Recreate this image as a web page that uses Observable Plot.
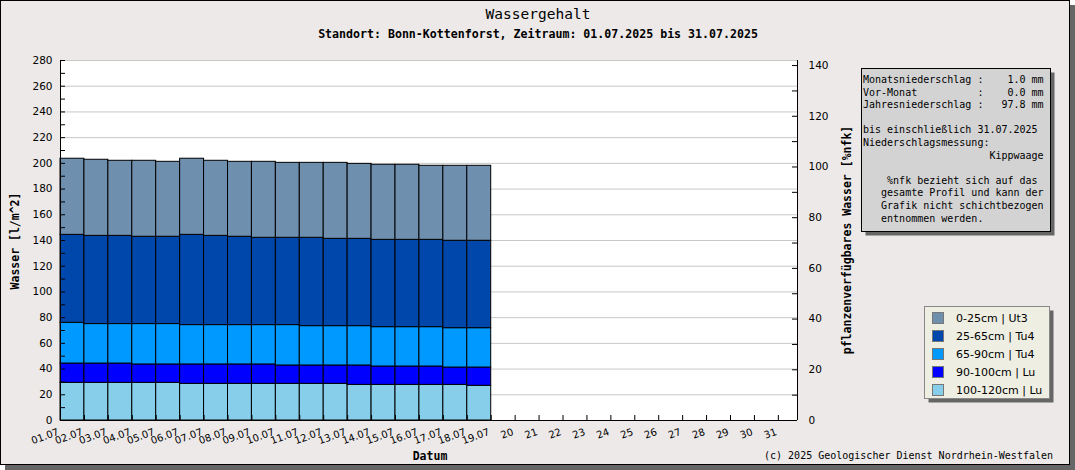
<!DOCTYPE html>
<html><head><meta charset="utf-8">
<script src="https://cdn.jsdelivr.net/npm/d3@7"></script>
<script src="https://cdn.jsdelivr.net/npm/@observablehq/plot@0.6"></script>
<style>
body{margin:0;background:#fff;}
#wrap{position:relative;width:1075px;height:470px;overflow:hidden;}
#shadow{position:absolute;left:5px;top:5px;width:1070px;height:465px;background:#666;}
#frame{position:absolute;left:0;top:0;width:1068px;height:463px;background:#ECE9E8;border:1px solid #000;}
#chart{position:absolute;left:0;top:0;}
#over{position:absolute;left:0;top:0;}
.mono{font-family:"DejaVu Sans Mono",monospace;}
</style></head>
<body>
<div id="wrap"><div id="shadow"></div><div id="frame"></div><div id="chart"></div>
<svg id="over" width="1075" height="470" xmlns="http://www.w3.org/2000/svg"></svg></div>
<script>
// ---- data ----
const days = [1,2,3,4,5,6,7,8,9,10,11,12,13,14,15,16,17,18];
const layers = ["0-25cm | Ut3","25-65cm | Tu4","65-90cm | Tu4","90-100cm | Lu","100-120cm | Lu"];
const colors = ["#6F8FAF","#0047AB","#0099FF","#0000FF","#87CEEB"];
const v0_25   = [59.2,59.2,58.4,59.1,58.3,59.2,58.4,58.3,59.1,58.3,58.3,59.1,58.3,58.4,58.4,57.6,58.3,58.3];
const v25_65  = [68.4,68.6,68.6,67.9,67.9,70.2,69.4,68.7,67.9,67.9,68.7,67.9,67.9,67.9,67.9,67.9,68.0,68.0];
const v65_90  = [31.7,30.7,30.7,31.4,31.4,30.6,30.6,30.6,30.6,31.4,30.6,30.6,30.6,30.6,30.6,30.6,30.6,30.6];
const v90_100 = [15.0,15.0,15.0,14.3,14.3,15.1,15.1,15.1,15.1,14.3,14.3,14.3,15.1,14.3,14.3,14.3,13.5,14.2];
const v100_120= [29.3,29.3,29.3,29.3,29.3,28.5,28.5,28.5,28.5,28.5,28.5,28.5,27.7,27.7,27.7,27.7,27.7,27.0];
const tickDays = [1,2,3,4,5,6,7,8,9,10,11,12,13,14,15,16,17,18,19,20,21,22,23,24,25,26,27,28,29,30,31];
const xLabels = ["01.07","02.07","03.07","04.07","05.07","06.07","07.07","08.07","09.07","10.07","11.07","12.07","13.07","14.07","15.07","16.07","17.07","18.07","19.07","20","21","22","23","24","25","26","27","28","29","30","31"];
const leftLabels = [0,20,40,60,80,100,120,140,160,180,200,220,240,260,280];
const leftMinor = [0,10,20,30,40,50,60,70,80,90,100,110,120,130,140,150,160,170,180,190,200,210,220,230,240,250,260,270,280];
const gridVals = [20,40,60,80,100,120,140,160,180,200,220,240,260,280];
const rightLabels = [0,20,40,60,80,100,120,140];
const rightMinor = [0,10,20,30,40,50,60,70,80,90,100,110,120,130,140];
const yMax = 280, rightMax = 142, xEnd = 31.8;
const infoLines = [
"Monatsniederschlag :    1.0 mm",
"Vor-Monat          :    0.0 mm",
"Jahresniederschlag :   97.8 mm",
"",
"bis einschließlich 31.07.2025",
"Niederschlagsmessung:",
"                     Kippwaage",
"",
"    %nfk bezieht sich auf das",
"   gesamte Profil und kann der",
"   Grafik nicht schichtbezogen",
"   entnommen werden."];

// ---- build table (bottom layer first for stacking) ----
const series = {"0-25cm | Ut3":v0_25,"25-65cm | Tu4":v25_65,"65-90cm | Tu4":v65_90,"90-100cm | Lu":v90_100,"100-120cm | Lu":v100_120};
const data = [];
for (const l of layers.slice().reverse()) days.forEach((d,i)=>data.push({day:d, layer:l, value:series[l][i]}));
const k = yMax / rightMax;

const W = 1075, H = 470, mL = 60, mT = 60, mR = 278, mB = 50;
const innerW = W - mL - mR, innerH = H - mT - mB;

const chart = Plot.plot({
  width: W, height: H,
  marginLeft: mL, marginTop: mT, marginRight: mR, marginBottom: mB,
  style: {background: "transparent", fontFamily: "DejaVu Sans", fontSize: "10.5px", color: "#000", overflow: "visible"},
  x: {domain: [1, xEnd], axis: null},
  y: {domain: [0, yMax], axis: null},
  color: {domain: layers, range: colors},
  marks: [
    Plot.frame({fill: "white", stroke: "none"}),
    Plot.ruleY(gridVals, {y: d => d, stroke: "#C8C8C8"}),
    Plot.rectY(data, {x1: "day", x2: d => d.day + 1, y: "value", fill: "layer", z: "layer", stroke: "#000", strokeWidth: 1}),
    Plot.tickY(leftMinor, {y: d => d, insetRight: innerW - 5, stroke: "#000"}),
    Plot.tickY(rightMinor.map(v => v * k), {y: d => d, insetLeft: innerW - 5, stroke: "#000"}),
    Plot.tickX(tickDays, {x: d => d, insetTop: innerH - 5, stroke: "#000"}),
    Plot.ruleX([1], {stroke: "#000"}),
    Plot.ruleX([xEnd], {stroke: "#000"}),
    Plot.ruleY([0], {stroke: "#000"}),
    Plot.axisY(leftLabels, {anchor: "left", tickSize: 0, tickPadding: 8, label: null, fontSize: 10.5}),
    Plot.axisY(rightLabels.map(v => v * k), {anchor: "right", tickSize: 0, tickPadding: 11, label: null, fontSize: 10.5, tickFormat: d => Math.round(d / k)}),
    Plot.axisX(tickDays, {anchor: "bottom", tickSize: 0, tickPadding: 11, tickRotate: -20, textAnchor: "end", dx: -2, label: null, fontSize: 10, tickFormat: d => xLabels[d - 1]})
  ]
});
document.getElementById("chart").appendChild(chart);

// ---- overlay texts, info box, legend ----
let s = "";
s += `<text x="538" y="19" text-anchor="middle" class="mono" font-size="14.5">Wassergehalt</text>`;
s += `<text x="538" y="38" text-anchor="middle" class="mono" font-size="11.6" font-weight="bold">Standort: Bonn-Kottenforst, Zeitraum: 01.07.2025 bis 31.07.2025</text>`;
s += `<text transform="translate(19,241) rotate(-90)" text-anchor="middle" class="mono" font-size="11.5" font-weight="bold">Wasser [l/m^2]</text>`;
s += `<text transform="translate(851,240) rotate(-90)" text-anchor="middle" class="mono" font-size="11.5" font-weight="bold">pflanzenverfügbares Wasser [%nfk]</text>`;
s += `<text x="430" y="460" text-anchor="middle" class="mono" font-size="11.5" font-weight="bold">Datum</text>`;
s += `<text x="1053" y="459" text-anchor="end" class="mono" font-size="10">(c) 2025 Geologischer Dienst Nordrhein-Westfalen</text>`;
// info box
s += `<rect x="865.5" y="72.5" width="189" height="163" fill="#666"/>`;
s += `<rect x="861.5" y="68.5" width="189" height="163" fill="#D3D3D3" stroke="#000"/>`;
infoLines.forEach((t,i)=>{ s += `<text x="863" y="${83 + i*12.6}" class="mono" font-size="10" xml:space="preserve" style="white-space:pre">${t}</text>`; });
// legend
s += `<rect x="928.5" y="310.5" width="125" height="92" fill="#666"/>`;
s += `<rect x="924.5" y="306.5" width="125" height="92" fill="#EEEEE2" stroke="#888"/>`;
layers.forEach((l,i)=>{
  const cy = 318 + i*18;
  s += `<rect x="932.5" y="${cy-5.5}" width="11" height="11" fill="${colors[i]}" stroke="#777"/>`;
  s += `<text x="956" y="${cy+4}" font-family="DejaVu Sans" font-size="11">${l}</text>`;
});
document.getElementById("over").innerHTML = s;
</script>
</body></html>
